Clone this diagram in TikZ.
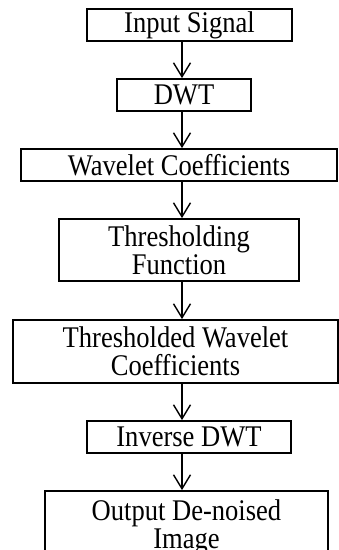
\documentclass[tikz,border=0pt]{standalone}
\usepackage{fontspec}
\setmainfont{Liberation Serif}[FakeStretch=0.885]
\usetikzlibrary{arrows.meta}
\tikzset{
  stage/.style={draw, line width=1.8pt, align=center, inner sep=0pt, minimum height=32pt,
    font=\fontsize{30}{28}\selectfont},
  flow/.style={line width=1.4pt, -{Straight Barb[length=14pt,width=17pt,line width=1.4pt]}}
}
\begin{document}
\begin{tikzpicture}[x=1pt,y=-1pt]
\useasboundingbox (0,0) rectangle (339,550);

\node[stage, minimum width=205pt] (input) at (189.5,25) {Input Signal};
\node[stage, minimum width=134pt] (dwt) at (184,95) {DWT};
\node[stage, minimum width=316pt] (coef) at (179,165) {Wavelet Coefficients};
\node[stage, minimum width=240pt, minimum height=62pt] (thr) at (179,250) {Thresholding\\Function};
\node[stage, minimum width=325pt, minimum height=63pt] (thrcoef) at (175.5,351.5) {Thresholded Wavelet\\Coefficients};
\node[stage, minimum width=204pt] (idwt) at (189,437) {Inverse DWT};
% last box runs past the bottom edge
\node[stage, minimum width=283pt, minimum height=72pt] (output) at (186.5,527) {Output De-noised\\Image};

% arrows all run down one line
\coordinate (ax) at (182,0);
\foreach \a/\b in {input/dwt, dwt/coef, coef/thr, thr/thrcoef, thrcoef/idwt, idwt/output}
  \draw[flow] (\a.south -| ax) -- (\b.north -| ax);
\end{tikzpicture}
\end{document}
